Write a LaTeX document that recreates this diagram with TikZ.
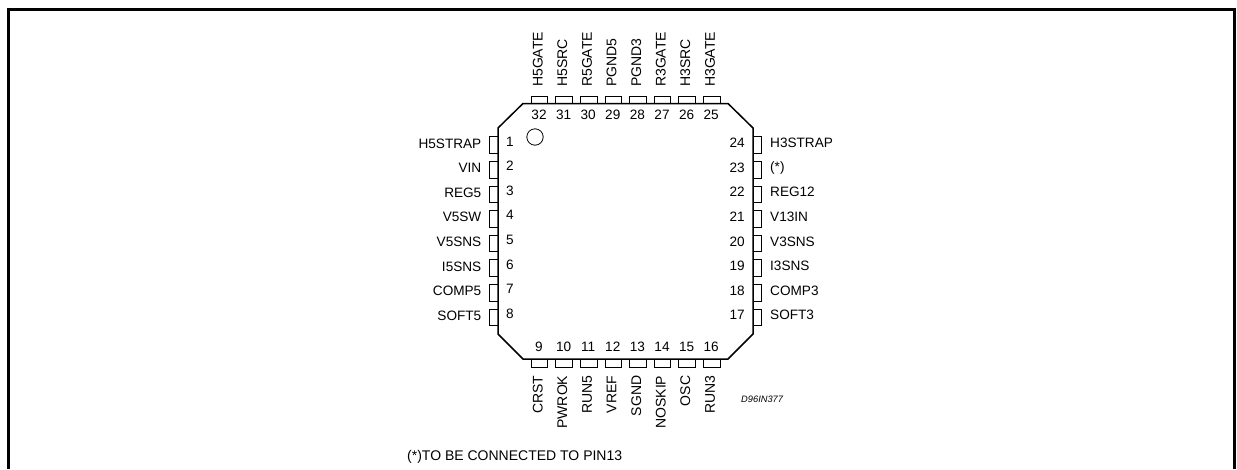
\documentclass[tikz,border=0pt]{standalone}
\usepackage{fontspec}
\setmainfont{Liberation Sans}
\tikzset{
  body/.style={draw=black,line width=1.5pt,line join=miter},
  frameline/.style={draw=black,line width=3pt},
  pin/.style={draw=black,line width=0.8pt},
  lbl/.style={font=\fontsize{13.6}{15}\selectfont,inner sep=0pt},
  vlbl/.style={font=\fontsize{14}{15}\selectfont,inner sep=0pt,rotate=90},
  num/.style={font=\fontsize{13.6}{15}\selectfont,inner sep=0pt},
}
\begin{document}
\begin{tikzpicture}[x=1pt,y=-1pt]
\useasboundingbox (0,0) rectangle (1237,469);
\fill[white] (0,0) rectangle (1237,469);
\draw[frameline] (8.5,469) -- (8.5,9.5) -- (1234.5,9.5) -- (1234.5,469);
% pins
\foreach \i/\name [count=\k from 0] in {1/H5STRAP,2/VIN,3/REG5,4/V5SW,5/V5SNS,6/I5SNS,7/COMP5,8/SOFT5}{
  \pgfmathsetmacro{\yy}{145+24.6*\k}
  \draw[pin] (498,\yy-8.3) -- (489.5,\yy-8.3) -- (489.5,\yy+8.3) -- (498,\yy+8.3);
  \node[lbl,anchor=east] (L\i) at (481.5,\yy-1.5) {\name};
  \node[num] (NL\i) at (510,\yy-3.5) {\i};
}
\foreach \i/\name [count=\k from 0] in {24/H3STRAP,23/(*),22/REG12,21/V13IN,20/V3SNS,19/I3SNS,18/COMP3,17/SOFT3}{
  \pgfmathsetmacro{\yy}{145+24.6*\k}
  \draw[pin] (753,\yy-8.3) -- (761.5,\yy-8.3) -- (761.5,\yy+8.3) -- (753,\yy+8.3);
  \node[lbl,anchor=west] (R\i) at (770,\yy-2) {\name};
  \node[num,anchor=east] (NR\i) at (745,\yy-2) {\i};
}
\foreach \i/\name [count=\k from 0] in {32/H5GATE,31/H5SRC,30/R5GATE,29/PGND5,28/PGND3,27/R3GATE,26/H3SRC,25/H3GATE}{
  \pgfmathsetmacro{\xx}{539.5+24.6*\k}
  \draw[pin] (\xx-8.3,103.5) -- (\xx-8.3,96) -- (\xx+8.3,96) -- (\xx+8.3,103.5);
  \node[vlbl,anchor=west] (T\i) at (\xx-1.7,87) {\name};
  \node[num] (NT\i) at (\xx-0.5,115) {\i};
}
\foreach \i/\name [count=\k from 0] in {9/CRST,10/PWROK,11/RUN5,12/VREF,13/SGND,14/NOSKIP,15/OSC,16/RUN3}{
  \pgfmathsetmacro{\xx}{539.5+24.6*\k}
  \draw[pin] (\xx-8.3,359) -- (\xx-8.3,367) -- (\xx+8.3,367) -- (\xx+8.3,359);
  \node[vlbl,anchor=east] (B\i) at (\xx-1.7,375.5) {\name};
  \node[num] (NB\i) at (\xx-0.5,347) {\i};
}
% package body
\draw[body] (523,103.5) -- (728,103.5) -- (753,128) -- (753,334) -- (728,359) -- (523,359) -- (498,334) -- (498,128) -- cycle;
\draw[line width=0.8pt] (535,137) circle (8.2);
\node[inner sep=0pt,anchor=west,font=\fontsize{9.3}{11}\selectfont\itshape] (code) at (741,399.5) {D96IN377};
\node[inner sep=0pt,anchor=west,font=\fontsize{14}{16}\selectfont] (note) at (407,456.5) {(*)TO BE CONNECTED TO PIN13};
\end{tikzpicture}
\end{document}
